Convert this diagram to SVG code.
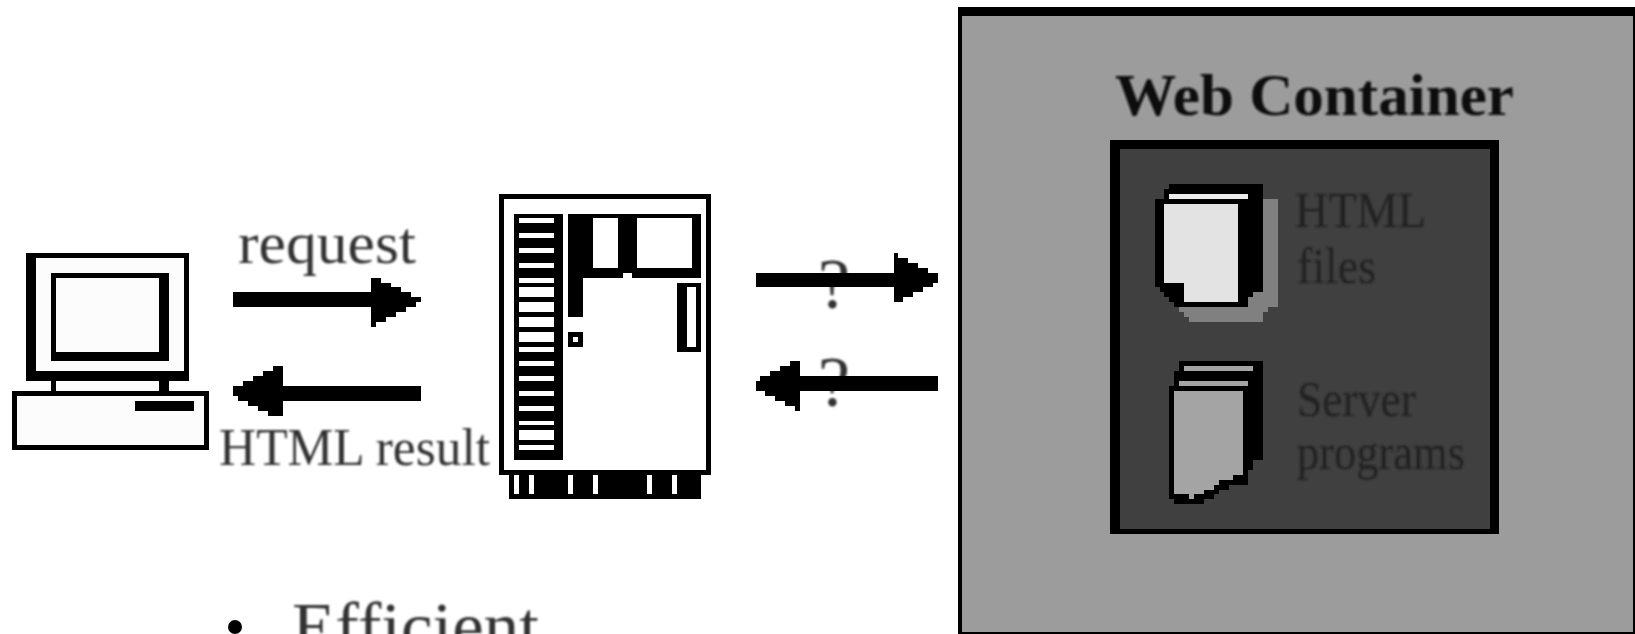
<svg xmlns="http://www.w3.org/2000/svg" width="1635" height="634" viewBox="0 0 1635 634">
<style>
.k{fill:#000}
.w{fill:#fff}
.l{fill:#fcfcfc}
.t{font-family:"Liberation Serif","Times New Roman",serif;filter:url(#soft)}
.g{fill:#333}
.d{fill:#222}
.p{fill:#a4a4a4}
</style>
<defs>
<filter id="soft" x="-10%" y="-20%" width="120%" height="140%"><feGaussianBlur stdDeviation="0.9"/></filter>
</defs>
<rect width="1635" height="634" fill="#fff"/>
<g id="computer">
<rect class="k" x="26" y="253" width="163" height="128"/>
<rect class="l" x="36" y="258" width="148" height="113"/>
<rect class="k" x="51" y="273" width="118" height="88"/>
<rect class="l" x="56" y="278" width="103" height="74"/>
<rect class="k" x="51" y="381" width="118" height="10"/>
<rect class="l" x="56" y="381" width="103" height="10"/>
<rect class="k" x="12" y="391" width="197" height="59"/>
<rect class="l" x="17" y="396" width="187" height="49"/>
<rect class="k" x="135" y="401" width="59" height="10"/>
</g>
<g id="web-server">
<rect class="k" x="499" y="194" width="212" height="281"/>
<rect class="w" x="504" y="199" width="202" height="271"/>
<rect class="k" x="514" y="214" width="49" height="246"/>
<g class="w">
<rect x="519" y="218" width="35" height="5"/><rect x="519" y="233" width="35" height="5"/>
<rect x="519" y="248" width="35" height="5"/><rect x="519" y="263" width="35" height="5"/>
<rect x="519" y="278" width="35" height="5"/><rect x="519" y="287" width="35" height="10"/>
<rect x="519" y="302" width="35" height="10"/><rect x="519" y="317" width="35" height="10"/>
<rect x="519" y="332" width="35" height="10"/><rect x="519" y="347" width="35" height="5"/>
<rect x="519" y="361" width="35" height="5"/><rect x="519" y="376" width="35" height="5"/>
<rect x="519" y="391" width="35" height="5"/><rect x="519" y="406" width="35" height="5"/>
<rect x="519" y="421" width="35" height="4"/><rect x="519" y="430" width="35" height="10"/>
<rect x="519" y="445" width="35" height="5"/>
</g>
<polygon class="k" points="568,214 701,214 701,278 583,278 583,317 568,317"/>
<rect class="w" x="593" y="218" width="25" height="50"/>
<rect class="w" x="637" y="218" width="55" height="50"/>
<rect class="w" x="623" y="273" width="9" height="5"/>
<rect class="k" x="568" y="332" width="15" height="15"/>
<rect class="w" x="573" y="337" width="5" height="5"/>
<rect class="k" x="677" y="283" width="24" height="69"/>
<rect class="w" x="687" y="287" width="9" height="60"/>
<rect class="k" x="509" y="475" width="192" height="24"/>
<g class="w">
<rect x="514" y="475" width="5" height="19"/><rect x="529" y="475" width="5" height="19"/>
<rect x="568" y="475" width="5" height="19"/><rect x="593" y="475" width="5" height="19"/>
<rect x="647" y="475" width="5" height="19"/><rect x="672" y="475" width="5" height="19"/>
</g>
</g>
<g id="web-container">
<rect class="k" x="958" y="7" width="677" height="627"/>
<rect x="962" y="16" width="671" height="616" fill="#9c9c9c"/>
<text class="t" x="1115" y="115" font-size="60" font-weight="700" textLength="399" lengthAdjust="spacingAndGlyphs" fill="#111">Web Container</text>
<rect class="k" x="1110" y="140" width="389" height="394"/>
<rect x="1120" y="149" width="370" height="380" fill="#404040"/>
<g id="html-files">
<polygon fill="#808080" points="1240,199 1278,199 1278,307 1268,307 1268,312 1263,312 1263,322 1189,322 1189,317 1184,317 1184,312 1179,312 1179,297 1240,297"/>
<polygon class="k" points="1169,184 1263,184 1263,292 1253,292 1253,297 1248,297 1248,307 1174,307 1174,302 1169,302 1169,297 1164,297 1164,292 1160,292 1160,287 1155,287 1155,199 1164,199 1164,189 1169,189"/>
<rect x="1169" y="194" width="79" height="5" fill="#ececec"/>
<polygon fill="#e3e3e3" points="1164,204 1238,204 1238,302 1184,302 1184,283 1164,283"/>
<text class="t d" x="1295" y="227" font-size="50" textLength="131" lengthAdjust="spacingAndGlyphs">HTML</text>
<text class="t d" x="1297" y="283" font-size="50" textLength="79" lengthAdjust="spacingAndGlyphs">files</text>
</g>
<g id="server-programs">
<polygon class="k" points="1179,361 1263,361 1263,460 1253,460 1253,470 1248,470 1248,485 1229,485 1229,490 1219,490 1219,494 1214,494 1214,499 1204,499 1204,504 1174,504 1174,499 1169,499 1169,386 1174,386 1174,371 1179,371"/>
<rect class="p" x="1184" y="366" width="69" height="5"/>
<rect class="p" x="1179" y="381" width="69" height="5"/>
<polygon class="p" points="1174,391 1243,391 1243,475 1233,475 1233,480 1219,480 1219,485 1214,485 1214,490 1204,490 1204,494 1194,494 1194,499 1189,499 1189,494 1174,494"/>
<text class="t d" x="1297" y="416" font-size="50" textLength="119" lengthAdjust="spacingAndGlyphs">Server</text>
<text class="t d" x="1297" y="469" font-size="50" textLength="168" lengthAdjust="spacingAndGlyphs">programs</text>
</g>
</g>
<g id="labels">
<text class="t g" x="238" y="263" font-size="60" textLength="178" lengthAdjust="spacingAndGlyphs">request</text>
<text class="t g" x="219" y="465" font-size="52" textLength="271" lengthAdjust="spacingAndGlyphs">HTML result</text>
<text class="t g" x="834" y="308" font-size="72" text-anchor="middle">?</text>
<text class="t g" x="834" y="406" font-size="72" text-anchor="middle">?</text>
</g>
<g id="connectors">
<polygon class="k" points="233,292 371,292 371,278 381,278 381,283 391,283 391,287 401,287 401,292 411,292 411,297 421,297 421,302 416,302 416,307 406,307 406,312 396,312 396,317 386,317 386,322 376,322 376,327 371,327 371,307 233,307"/>
<polygon class="k" points="421,386 283,386 283,366 273,366 273,371 263,371 263,376 253,376 253,381 243,381 243,386 233,386 233,396 238,396 238,401 248,401 248,406 258,406 258,411 268,411 268,416 283,416 283,401 421,401"/>
<polygon class="k" points="756,273 894,273 894,253 898,253 898,258 908,258 908,263 918,263 918,268 928,268 928,273 938,273 938,283 933,283 933,287 923,287 923,292 913,292 913,297 903,297 903,302 894,302 894,287 756,287"/>
<polygon class="k" points="938,376 800,376 800,361 790,361 790,366 780,366 780,371 770,371 770,376 760,376 760,381 756,381 756,391 765,391 765,396 775,396 775,401 785,401 785,406 795,406 795,411 800,411 800,391 938,391"/>
</g>
<g id="efficient-item">
<circle cx="235" cy="627" r="7" class="k"/>
<text class="t g" x="292" y="649" font-size="68" textLength="247" lengthAdjust="spacingAndGlyphs">Efficient</text>
</g>
</svg>
